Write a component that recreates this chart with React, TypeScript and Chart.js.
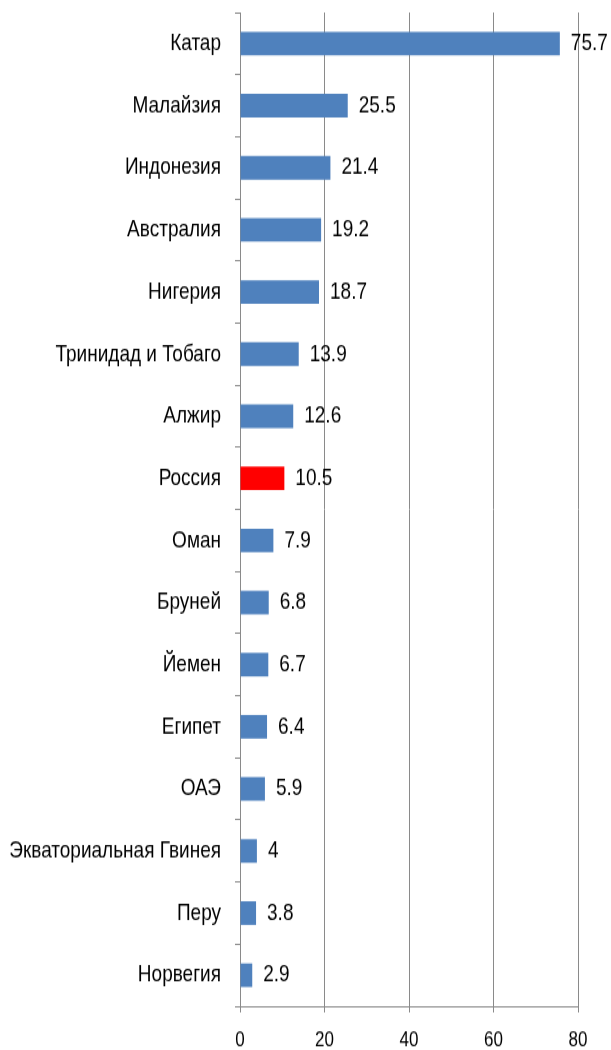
import React, { useEffect, useRef } from "react";
import { Chart, registerables } from "chart.js";

Chart.register(...registerables);

const categories: string[] = [
  "Катар",
  "Малайзия",
  "Индонезия",
  "Австралия",
  "Нигерия",
  "Тринидад и Тобаго",
  "Алжир",
  "Россия",
  "Оман",
  "Бруней",
  "Йемен",
  "Египет",
  "ОАЭ",
  "Экваториальная Гвинея",
  "Перу",
  "Норвегия",
];

const values: number[] = [75.7, 25.5, 21.4, 19.2, 18.7, 13.9, 12.6, 10.5, 7.9, 6.8, 6.7, 6.4, 5.9, 4, 3.8, 2.9];

const highlighted: string[] = ["Россия"];

const xTicks: number[] = [0, 20, 40, 60, 80];

const BLUE = "#4F81BD";
const RED = "#FF0000";
const GRID = "#8a8a8a";
const FONT = "'Liberation Sans', Arial, sans-serif";

// logical canvas height; the canvas is stretched to 1050px (the reference is vertically stretched)
const W = 611;
const H = 840;

const dataLabels = {
  id: "dataLabels",
  afterDatasetsDraw(chart: any) {
    const ctx = chart.ctx;
    const meta = chart.getDatasetMeta(0);
    const ds = chart.data.datasets[0];
    ctx.save();
    ctx.font = `19px ${FONT}`;
    ctx.fillStyle = "#000";
    ctx.textAlign = "left";
    ctx.textBaseline = "middle";
    meta.data.forEach((el: any, i: number) => {
      ctx.fillText(String(ds.data[i]), el.x + 11, el.y);
    });
    ctx.restore();
  },
};

export default function App() {
  const ref = useRef<HTMLCanvasElement | null>(null);

  useEffect(() => {
    if (!ref.current) return;
    const chart = new Chart(ref.current, {
      type: "bar",
      data: {
        labels: categories,
        datasets: [
          {
            data: values,
            backgroundColor: categories.map((c) => (highlighted.includes(c) ? RED : BLUE)),
            borderWidth: 0,
            barPercentage: 0.38,
            categoryPercentage: 1,
          },
        ],
      },
      options: {
        indexAxis: "y",
        animation: false,
        responsive: false,
        devicePixelRatio: 1,
        layout: { padding: { top: 10, right: 33, bottom: 0, left: 0 } },
        plugins: {
          legend: { display: false },
          tooltip: { enabled: false },
          title: { display: false },
        },
        scales: {
          x: {
            type: "linear",
            min: 0,
            max: 80,
            afterBuildTicks: (scale: any) => {
              scale.ticks = xTicks.map((v) => ({ value: v }));
            },
            afterFit: (scale: any) => {
              scale.height = 35;
              scale.paddingLeft = 0;
            },
            grid: {
              color: GRID,
              lineWidth: 1,
              drawTicks: true,
              tickLength: 5,
            },
            border: { display: true, color: GRID, width: 1 },
            ticks: {
              font: { family: FONT, size: 17 },
              color: "#000",
              padding: 12.5,
              maxRotation: 0,
            },
          },
          y: {
            type: "category",
            afterFit: (scale: any) => {
              scale.width = 240;
              scale.paddingTop = 0;
              scale.paddingBottom = 0;
            },
            grid: {
              display: true,
              drawOnChartArea: false,
              drawTicks: true,
              tickLength: 5,
              color: GRID,
              offset: true,
            },
            border: { display: true, color: GRID, width: 1 },
            ticks: {
              font: { family: FONT, size: 19 },
              color: "#000",
              padding: 14,
              autoSkip: false,
            },
          },
        },
      },
      plugins: [dataLabels],
    });
    return () => chart.destroy();
  }, []);

  return (
    <div style={{ position: "fixed", left: 0, top: 0, width: W, height: 1050, background: "#fff" }}>
      <canvas ref={ref} width={W} height={H} style={{ width: `${W}px`, height: "1050px", display: "block" }} />
    </div>
  );
}
